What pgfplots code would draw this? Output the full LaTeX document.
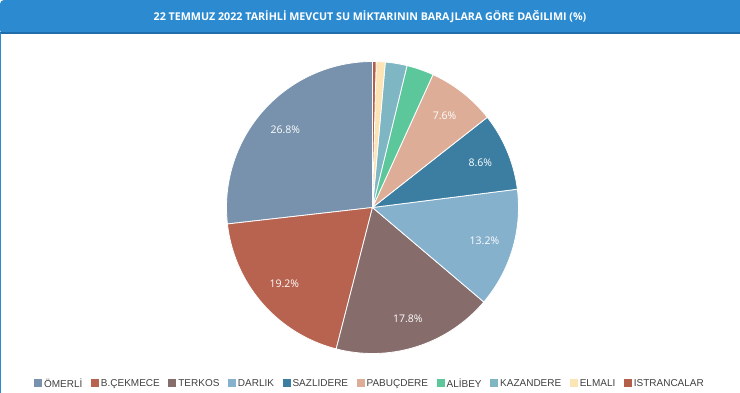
\documentclass[border=0pt]{standalone}
\usepackage{pgfplots}
\pgfplotsset{compat=1.18}
\usepackage{fontspec}
\setmainfont{Liberation Sans}
\newfontfamily\osans{Open Sans}
\definecolor{barblue}{HTML}{2B8AD0}
\definecolor{bardark}{HTML}{1F6DAA}
\definecolor{cOmerli}{HTML}{7892AD}
\definecolor{cBcek}{HTML}{B76350}
\definecolor{cTerkos}{HTML}{866C6B}
\definecolor{cDarlik}{HTML}{86B1CD}
\definecolor{cSazli}{HTML}{3B7EA1}
\definecolor{cPabuc}{HTML}{DEAD97}
\definecolor{cAlibey}{HTML}{5CC79B}
\definecolor{cKazan}{HTML}{7EB6C4}
\definecolor{cElmali}{HTML}{FDE4B5}
\definecolor{cIstr}{HTML}{B35F49}
\tikzset{lbl/.style={text=white, font=\osans\fontsize{10.5}{12}\selectfont, inner sep=0pt}}
\def\cum{0}
\newcommand\slice[3]{%
  \pgfmathsetmacro\sa{90+\cum*3.6}%
  \pgfmathsetmacro\sb{90+(\cum+#1)*3.6}%
  \pgfmathsetmacro\newcum{\cum+#1}\global\let\cum\newcum
  \pgfmathsetmacro\lx{0.8*cos((\sa+\sb)/2)}%
  \pgfmathsetmacro\ly{0.8*sin((\sa+\sb)/2)}%
  \edef\doslice{\noexpand\addplot[fill=#2, draw=white, line width=0.8pt, domain=\sa:\sb, samples=90, variable=\noexpand\t] ({cos(\noexpand\t)},{sin(\noexpand\t)}) -- (axis cs:0,0) -- cycle;}%
  \doslice
  \addlegendentry{#3}
  \pgfmathparse{#1>5 ? 1 : 0}%
  \ifnum\pgfmathresult=1
    \edef\dolabel{\noexpand\node[lbl] at (axis cs:\lx,\ly) {#1\noexpand\%};}%
    \dolabel
  \fi
}
\begin{document}
\begin{tikzpicture}
\useasboundingbox (0,0) rectangle (740pt,393pt);
\fill[white] (0,0) rectangle (740pt,393pt);
\fill[barblue, rounded corners=4pt] (0,359pt) rectangle (760pt,393pt);
\fill[bardark] (0,358.5pt) rectangle (740pt,360.5pt);
\fill[barblue] (0,0) rectangle (1.3pt,360pt);
\node[white, font=\osans\bfseries\fontsize{10.7}{12}\selectfont] at (370pt,376pt) {22 TEMMUZ 2022 TARİHLİ MEVCUT SU MİKTARININ BARAJLARA GÖRE DAĞILIMI (\%)};
\begin{axis}[at={(372.5pt,185.5pt)}, anchor=center, x=146pt, y=146pt,
  xmin=-1, xmax=1, ymin=-1, ymax=1, hide axis, clip=false,
  legend columns=10,
  legend image code/.code={\fill[#1, draw=none] (0pt,-3.2pt) rectangle (8pt,4.8pt);},
  legend style={at={(axis description cs:0.4914,-0.1045)}, anchor=center, draw=none, fill=none,
    font=\fontsize{10}{12}\selectfont, text=black!75, inner sep=0pt,
    /tikz/column sep=0pt,
    /tikz/every odd column/.append style={column sep=0pt},
    /tikz/every even column/.append style={column sep=6.5pt},
    nodes={inner sep=2pt}},
  legend cell align=left]
\slice{26.8}{cOmerli}{ÖMERLİ}
\slice{19.2}{cBcek}{B.ÇEKMECE}
\slice{17.8}{cTerkos}{TERKOS}
\slice{13.2}{cDarlik}{DARLIK}
\slice{8.6}{cSazli}{SAZLIDERE}
\slice{7.6}{cPabuc}{PABUÇDERE}
\slice{3.0}{cAlibey}{ALİBEY}
\slice{2.4}{cKazan}{KAZANDERE}
\slice{1.0}{cElmali}{ELMALI}
\slice{0.4}{cIstr}{ISTRANCALAR}
\end{axis}
\end{tikzpicture}
\end{document}
